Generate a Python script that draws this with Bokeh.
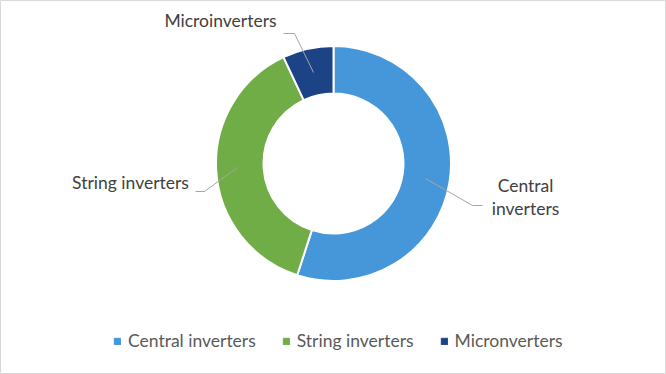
import numpy as np
from bokeh.plotting import figure
from bokeh.models import Range1d, Legend, LegendItem, ColumnDataSource
from bokeh.core.properties import value
from bokeh.embed import file_html
from bokeh.resources import INLINE

categories = ["Central inverters", "String inverters", "Microinverters"]
legend_labels = ["Central inverters", "String inverters", "Micronverters"]
shares = [55, 38, 7]
colors = ["#4597D9", "#70AD47", "#1D4387"]

W, H = 666, 374
p = figure(width=W, height=H, output_backend="svg", toolbar_location=None,
           x_range=Range1d(0, W), y_range=Range1d(0, H), min_border=0)
p.axis.visible = False
p.grid.visible = False
p.outline_line_color = "#d9d9d9"
p.background_fill_color = "white"

cx, cy = 333, H - 163
frac = np.array(shares, dtype=float) / sum(shares)
cum = np.concatenate([[0], np.cumsum(frac)])
start = np.pi / 2 - cum[:-1] * 2 * np.pi
end = np.pi / 2 - cum[1:] * 2 * np.pi
src = ColumnDataSource(dict(start=start, end=end, color=colors, cat=categories))
p.annular_wedge(x=cx, y=cy, inner_radius=70, outer_radius=117.5,
                start_angle="start", end_angle="end", direction="clock",
                fill_color="color", line_color="white", line_width=2, source=src)

# leader lines
lc = "#a6a6a6"
p.line([283, 294, 313], [H - 33, H - 33, H - 72], line_color=lc, line_width=1)
p.line([195, 204, 237], [H - 191, H - 191, H - 167], line_color=lc, line_width=1)
p.line([425, 472, 482], [H - 178, H - 205, H - 205], line_color=lc, line_width=1)

fs = "17.5px"
font = value("Lato")
tc = "#404040"
p.text(x=[220], y=[H - 20], text=[categories[2]], text_font=font, text_font_size=fs,
       text_color=tc, text_align="center", text_baseline="middle")
p.text(x=[130], y=[H - 182], text=[categories[1]], text_font=font, text_font_size=fs,
       text_color=tc, text_align="center", text_baseline="middle")
p.text(x=[525, 525], y=[H - 185, H - 208], text=["Central", "inverters"], text_font=font,
       text_font_size=fs, text_color=tc, text_align="center", text_baseline="middle")

items = []
for lab, col in zip(legend_labels, colors):
    r = p.quad(left=[np.nan], right=[np.nan], bottom=[np.nan], top=[np.nan],
               fill_color=col, line_color=col)
    items.append(LegendItem(label=lab, renderers=[r]))
leg = Legend(items=items, orientation="horizontal", location=(113, 23),
             label_text_font="Lato", label_text_font_size=fs, label_text_color="#595959",
             glyph_width=8, glyph_height=8, label_standoff=7, spacing=26,
             background_fill_alpha=0, border_line_alpha=0, padding=0, margin=0)
p.add_layout(leg, "center")

open("out.html", "w").write(file_html(p, INLINE))
